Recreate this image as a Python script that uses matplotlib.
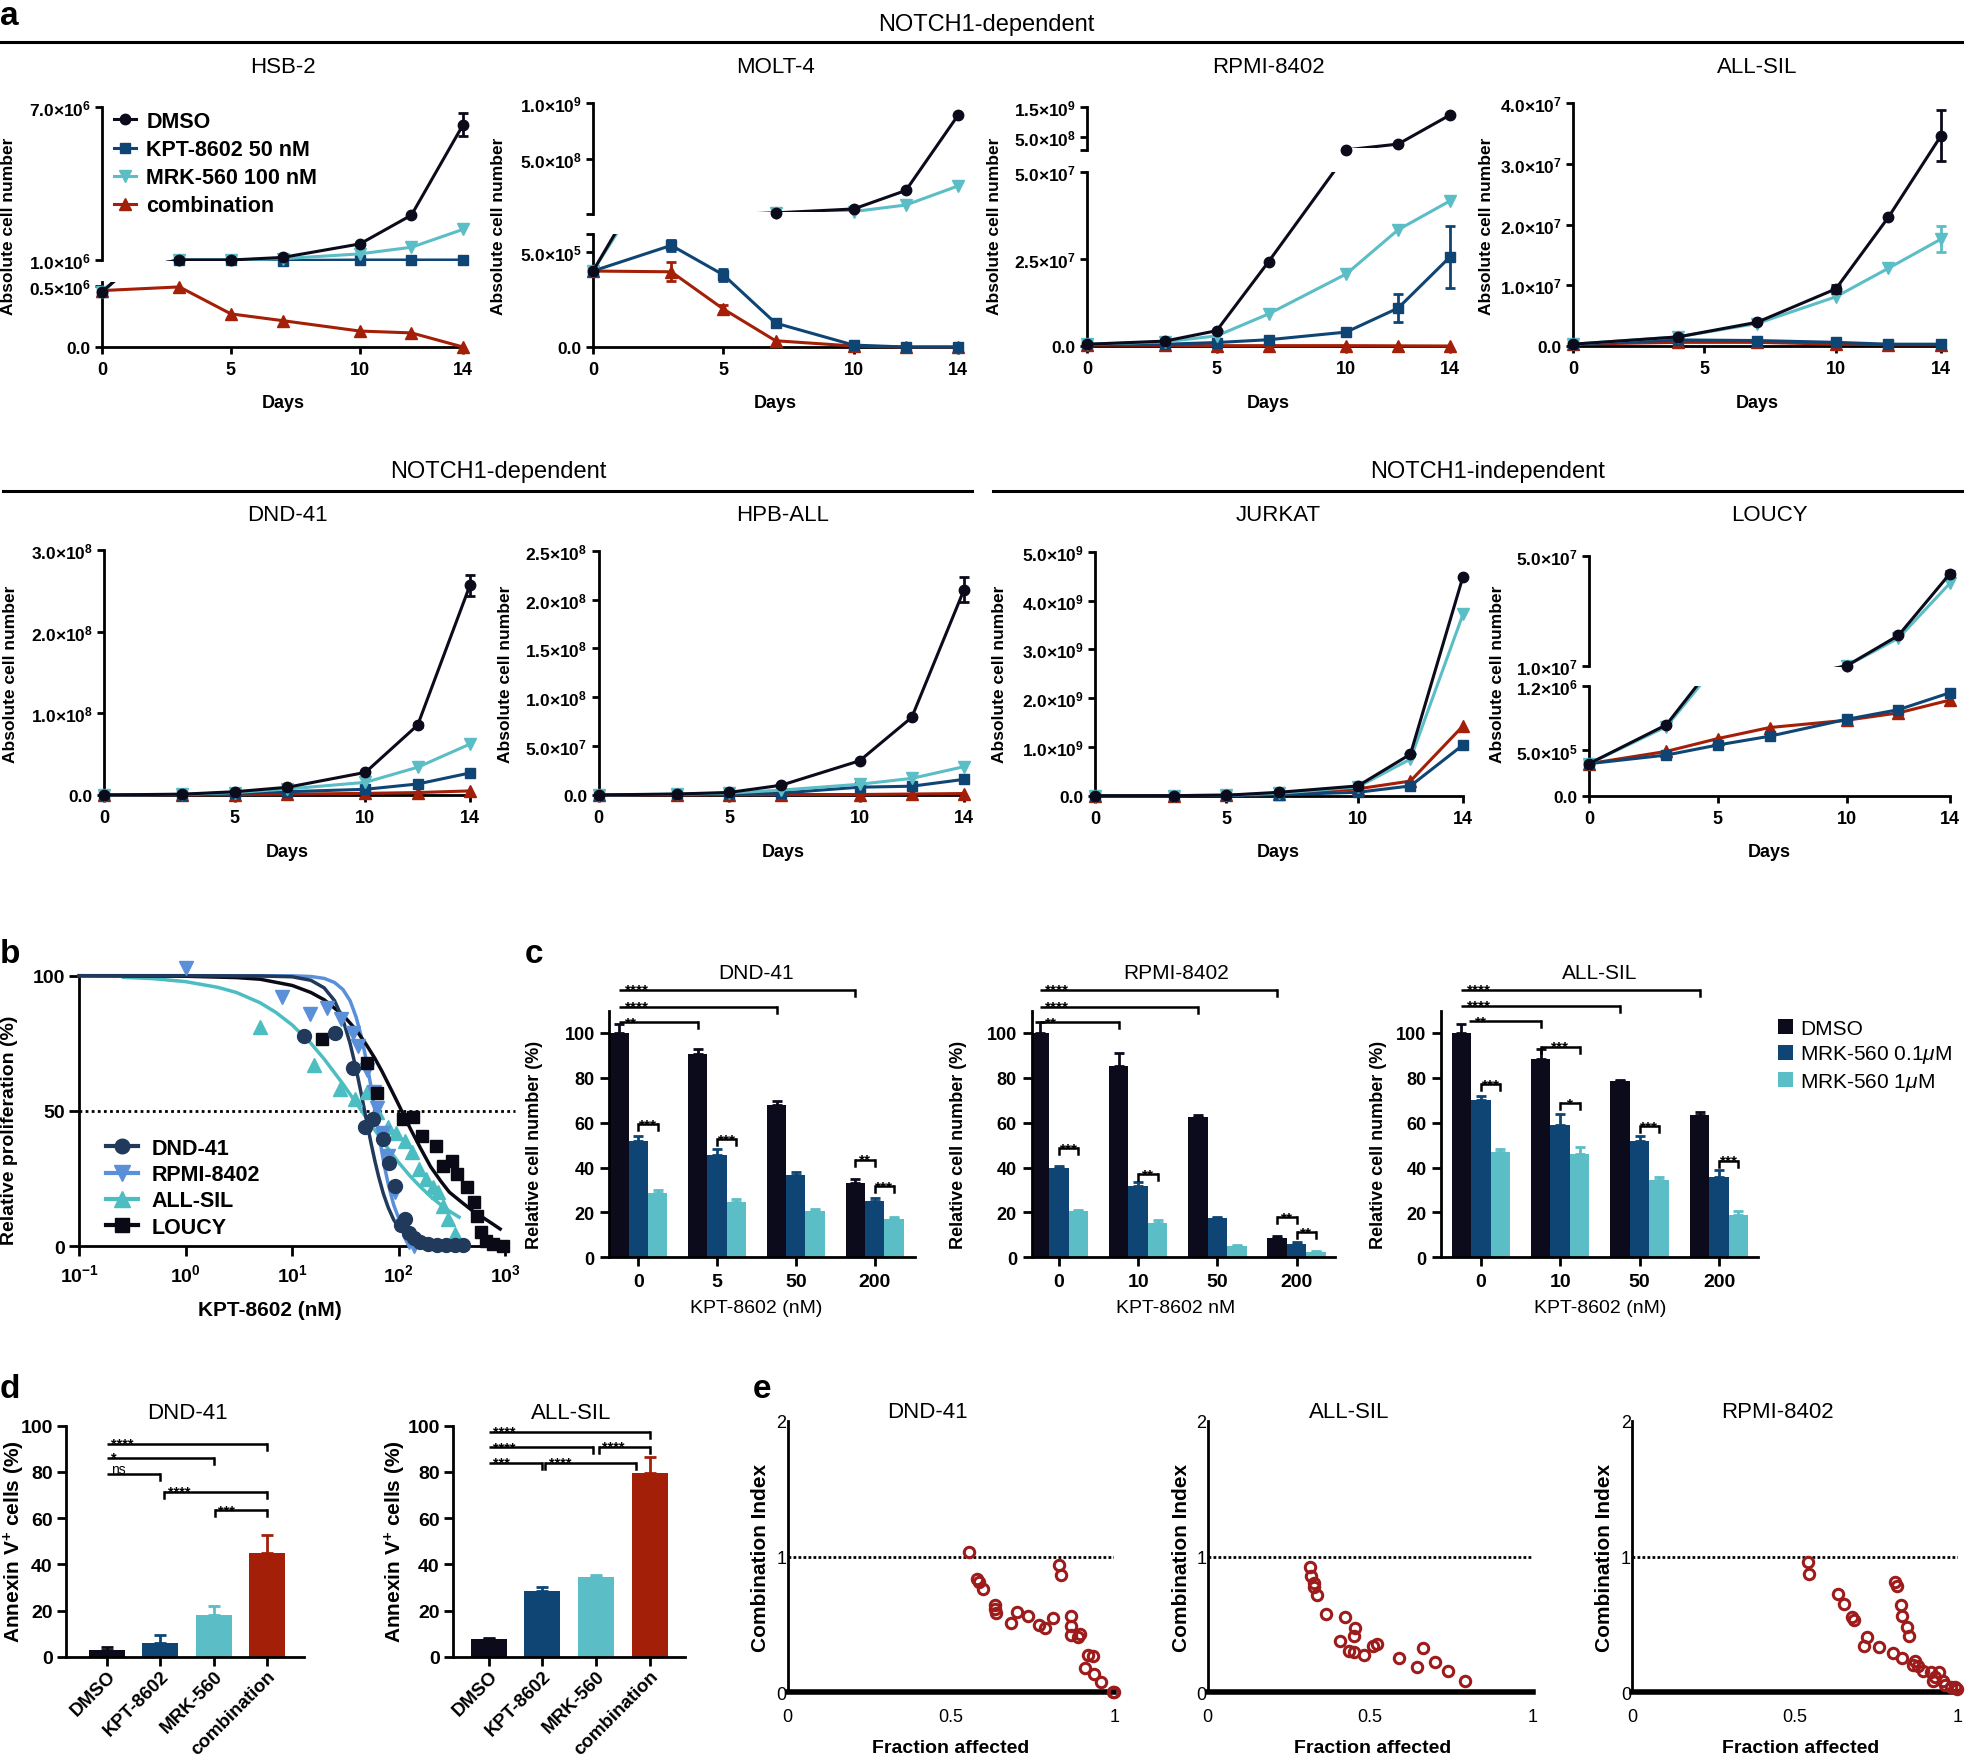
import numpy as np
import matplotlib
matplotlib.use("Agg")
import matplotlib.pyplot as plt
from matplotlib.lines import Line2D
from matplotlib.patches import Patch
from matplotlib.transforms import Bbox, TransformedBbox

plt.rcParams['font.family'] = ['Liberation Sans', 'DejaVu Sans']
plt.rcParams['mathtext.fontset'] = 'custom'
plt.rcParams['mathtext.rm'] = 'Liberation Sans'
plt.rcParams['mathtext.it'] = 'Liberation Sans:italic'
plt.rcParams['mathtext.bf'] = 'Liberation Sans:bold'
plt.rcParams['mathtext.default'] = 'regular'

# ======================= DATA =======================
# ---- panel a: growth curves ----
DAYS = [0, 3, 5, 7, 10, 12, 14]
DAYS_ALLSIL = [0, 4, 7, 10, 12, 14]
A_LABELS = ['DMSO', 'KPT-8602 50 nM', 'MRK-560 100 nM', 'combination']
A_XTICKS = [0, 5, 10, 14]

HSB2_DMSO = [0.45e6, 1.0e6, 1.0e6, 1.1e6, 1.63e6, 2.76e6, 6.3e6]
HSB2_DMSO_ERR = [0, 0, 0, 0, 0, 0, 0.45e6]
HSB2_KPT = [0.45e6, 1.0e6, 1.0e6, 0.98e6, 1.0e6, 1.0e6, 1.0e6]
HSB2_MRK = [0.45e6, 1.0e6, 1.0e6, 1.05e6, 1.24e6, 1.5e6, 2.2e6]
HSB2_COMB = [0.46e6, 0.49e6, 0.27e6, 0.215e6, 0.13e6, 0.115e6, 0.0]

MOLT4_DMSO = [4.0e5, 1.1e6, 4.0e6, 2.0e7, 5.5e7, 2.2e8, 8.9e8]
MOLT4_KPT = [4.0e5, 5.35e5, 3.8e5, 1.26e5, 1.0e4, 0.0, 0.0]
MOLT4_KPT_ERR = [0, 3e4, 3e4, 1e4, 0, 0, 0]
MOLT4_MRK = [4.0e5, 1.05e6, 3.8e6, 1.9e7, 3.2e7, 9.0e7, 2.6e8]
MOLT4_COMB = [4.0e5, 3.96e5, 2.0e5, 3.3e4, 5.0e3, 0.0, 0.0]
MOLT4_COMB_ERR = [0, 5e4, 2e4, 0, 0, 0, 0]

RPMI_DMSO = [5.0e5, 1.4e6, 4.4e6, 2.42e7, 5.5e7, 2.5e8, 1.23e9]
RPMI_KPT = [5.0e5, 5.0e5, 1.0e6, 1.8e6, 4.0e6, 1.09e7, 2.56e7]
RPMI_KPT_ERR = [0, 0, 0, 0, 0, 4.0e6, 9.0e6]
RPMI_MRK = [5.0e5, 1.2e6, 2.9e6, 9.2e6, 2.07e7, 3.34e7, 4.17e7]
RPMI_COMB = [3.0e5, 2.0e5, 1.0e5, 1.0e5, 1.0e5, 5.0e4, 0.0]

ALLSIL_DMSO = [0.3e6, 1.5e6, 3.9e6, 9.4e6, 2.12e7, 3.46e7]
ALLSIL_DMSO_ERR = [0, 0, 0, 0.7e6, 0, 4.2e6]
ALLSIL_KPT = [0.3e6, 1.0e6, 0.9e6, 0.6e6, 0.3e6, 0.3e6]
ALLSIL_MRK = [0.3e6, 1.5e6, 3.7e6, 8.1e6, 1.28e7, 1.76e7]
ALLSIL_MRK_ERR = [0, 0, 0, 0, 0, 2.1e6]
ALLSIL_COMB = [0.3e6, 0.6e6, 0.6e6, 0.3e6, 0.2e6, 0.2e6]

DND_DMSO = [0.1e6, 1.0e6, 4.0e6, 9.4e6, 2.77e7, 8.57e7, 2.57e8]
DND_DMSO_ERR = [0, 0, 0, 0, 0, 3e6, 1.3e7]
DND_KPT = [0.1e6, 0.5e6, 2.0e6, 4.0e6, 7.0e6, 1.35e7, 2.7e7]
DND_MRK = [0.1e6, 0.8e6, 3.0e6, 7.3e6, 1.55e7, 3.4e7, 6.24e7]
DND_COMB = [0.1e6, 0.3e6, 0.5e6, 1.0e6, 2.0e6, 3.0e6, 5.0e6]

HPB_DMSO = [0.1e6, 1.0e6, 2.6e6, 1.0e7, 3.5e7, 7.95e7, 2.1e8]
HPB_DMSO_ERR = [0, 0, 0, 0, 0, 0, 1.3e7]
HPB_KPT = [0.1e6, 0.6e6, 1.5e6, 2.0e6, 8.0e6, 9.0e6, 1.6e7]
HPB_MRK = [0.1e6, 0.8e6, 2.0e6, 5.0e6, 1.1e7, 1.7e7, 2.9e7]
HPB_COMB = [0.1e6, 0.3e6, 0.4e6, 0.5e6, 0.5e6, 1.0e6, 1.5e6]

JUR_DMSO = [0.5e6, 2.0e6, 1.0e7, 7.0e7, 2.0e8, 8.5e8, 4.49e9]
JUR_KPT = [0.5e6, 2.0e6, 6.0e6, 2.0e7, 7.0e7, 2.0e8, 1.04e9]
JUR_MRK = [0.5e6, 2.0e6, 1.0e7, 5.0e7, 1.8e8, 7.5e8, 3.72e9]
JUR_COMB = [0.5e6, 2.0e6, 8.0e6, 3.0e7, 1.4e8, 3.0e8, 1.43e9]

LOU_DMSO = [0.356e6, 0.78e6, 1.5e6, 4.0e6, 1.0e7, 2.1e7, 4.35e7]
LOU_DMSO_ERR = [0, 0, 0, 0, 0, 0, 1.0e6]
LOU_KPT = [0.356e6, 0.45e6, 0.56e6, 0.655e6, 0.84e6, 0.945e6, 1.13e6]
LOU_MRK = [0.356e6, 0.76e6, 1.45e6, 3.8e6, 1.0e7, 2.0e7, 4.0e7]
LOU_COMB = [0.356e6, 0.49e6, 0.63e6, 0.75e6, 0.83e6, 0.91e6, 1.05e6]

# y tick values / labels
HSB2_UP_T = [1e6, 7e6]
HSB2_UP_L = [r'$\mathbf{1.0{\times}10^{6}}$', r'$\mathbf{7.0{\times}10^{6}}$']
HSB2_LO_T = [0, 0.5e6]
HSB2_LO_L = ['0.0', r'$\mathbf{0.5{\times}10^{6}}$']
MOLT4_UP_T = [1e7, 5e8, 1e9]
MOLT4_UP_L = ['', r'$\mathbf{5.0{\times}10^{8}}$', r'$\mathbf{1.0{\times}10^{9}}$']
MOLT4_LO_T = [0, 5e5, 5.95e5]
MOLT4_LO_L = ['0.0', r'$\mathbf{5.0{\times}10^{5}}$', '']
RPMI_UP_T = [5e7, 5e8, 1.5e9]
RPMI_UP_L = ['', r'$\mathbf{5.0{\times}10^{8}}$', r'$\mathbf{1.5{\times}10^{9}}$']
RPMI_LO_T = [0, 2.5e7, 5e7]
RPMI_LO_L = ['0.0', r'$\mathbf{2.5{\times}10^{7}}$', r'$\mathbf{5.0{\times}10^{7}}$']
ALLSIL_T = [0, 1e7, 2e7, 3e7, 4e7]
ALLSIL_L = ['0.0', r'$\mathbf{1.0{\times}10^{7}}$', r'$\mathbf{2.0{\times}10^{7}}$',
            r'$\mathbf{3.0{\times}10^{7}}$', r'$\mathbf{4.0{\times}10^{7}}$']
DND_T = [0, 1e8, 2e8, 3e8]
DND_L = ['0.0', r'$\mathbf{1.0{\times}10^{8}}$', r'$\mathbf{2.0{\times}10^{8}}$', r'$\mathbf{3.0{\times}10^{8}}$']
HPB_T = [0, 5e7, 1e8, 1.5e8, 2e8, 2.5e8]
HPB_L = ['0.0', r'$\mathbf{5.0{\times}10^{7}}$', r'$\mathbf{1.0{\times}10^{8}}$', r'$\mathbf{1.5{\times}10^{8}}$',
         r'$\mathbf{2.0{\times}10^{8}}$', r'$\mathbf{2.5{\times}10^{8}}$']
JUR_T = [0, 1e9, 2e9, 3e9, 4e9, 5e9]
JUR_L = ['0.0', r'$\mathbf{1.0{\times}10^{9}}$', r'$\mathbf{2.0{\times}10^{9}}$', r'$\mathbf{3.0{\times}10^{9}}$',
         r'$\mathbf{4.0{\times}10^{9}}$', r'$\mathbf{5.0{\times}10^{9}}$']
LOU_UP_T = [1e7, 5e7]
LOU_UP_L = [r'$\mathbf{1.0{\times}10^{7}}$', r'$\mathbf{5.0{\times}10^{7}}$']
LOU_LO_T = [0, 5e5, 1.2e6]
LOU_LO_L = ['0.0', r'$\mathbf{5.0{\times}10^{5}}$', r'$\mathbf{1.2{\times}10^{6}}$']

# ---- panel b: dose response ----
B_LABELS = ['DND-41', 'RPMI-8402', 'ALL-SIL', 'LOUCY']
B_DND_X = [13, 25, 37, 48, 58, 72, 82, 92, 105, 115, 125, 140, 160, 190, 230, 280, 340, 400]
B_DND_Y = [77.6, 78.8, 65.8, 44, 47, 39.6, 30.8, 22.4, 8, 10, 5, 3, 1.5, 1, 0.5, 0.5, 0.3, 0.3]
B_RPMI_X = [1, 8.1, 14.7, 21.4, 29, 37.5, 41.7, 50.5, 58.5, 63, 70.7, 79, 92, 107, 124, 140]
B_RPMI_Y = [103, 92, 86, 88, 84, 79, 74, 65, 57, 51, 42, 33.5, 20, 7.6, 1.5, 0.2]
B_ALLSIL_X = [5, 16.2, 27.9, 39, 50.5, 63, 79, 95, 115, 133, 155, 180, 209, 234, 260, 290, 340, 365]
B_ALLSIL_Y = [81, 67, 58, 54.4, 57, 49.5, 44, 42, 39, 34.7, 28.6, 25, 21.8, 20, 15, 10, 4.5, 2]
B_LOUCY_X = [19, 50.5, 63, 110, 138, 166, 224, 260, 318, 355, 440, 510, 550, 590, 665, 770, 950]
B_LOUCY_Y = [76.6, 67.7, 56.6, 47, 47.7, 40.9, 37, 29.8, 31.6, 26.7, 21.8, 16.3, 11.3, 5.2, 2, 0.9, 0.2]
# fitted curves
CUR_DND_X = [0.1, 1, 5, 10, 15, 20, 25, 30, 35, 40, 45, 50, 55, 60, 65, 72, 80, 90, 100, 115, 130, 150, 170, 200, 250, 320, 400]
CUR_DND_Y = [100, 100, 99.9, 99.6, 98.3, 95.5, 90.8, 83.8, 75, 65.4, 55.6, 46.4, 38.3, 31.4, 25.7, 19.4, 14.3, 9.8, 7.1, 4.6, 3.0, 1.9, 1.2, 0.7, 0.3, 0.15, 0.06]
CUR_RPMI_X = [0.1, 1, 5, 10, 15, 20, 25, 30, 35, 40, 45, 50, 55, 60, 65, 70, 75, 80, 90, 100, 110, 120, 135, 150]
CUR_RPMI_Y = [100, 100, 100, 99.95, 99.7, 99, 97.5, 94.9, 90.8, 84.6, 77, 68.3, 59.1, 50, 41.6, 34.4, 28.1, 23, 15.3, 10.5, 7.4, 5.2, 3.3, 2.1]
CUR_ALLSIL_X = [0.26, 0.5, 1, 2, 3, 5, 7, 10, 15, 20, 30, 45, 60, 80, 100, 130, 160, 200, 250, 300, 370]
CUR_ALLSIL_Y = [99.4, 98.9, 97.8, 95.7, 93.8, 90, 86.5, 81.8, 75, 69.2, 60, 50, 42.9, 36, 31, 25.7, 22, 18.4, 15.3, 13, 10.8]
CUR_LOUCY_X = [0.1, 1, 3, 5, 10, 15, 20, 30, 40, 50, 60, 70, 85, 100, 107, 130, 160, 200, 250, 300, 400, 500, 617, 750, 900]
CUR_LOUCY_Y = [100, 99.8, 99.3, 98.7, 96.4, 93.8, 91.1, 85.5, 79.9, 74.4, 69.4, 64.6, 58, 52.4, 50, 43.2, 36.4, 29.4, 24, 20, 16, 13, 10.7, 8.5, 6.4]
B_XTICKS = [0.1, 1, 10, 100, 1000]
B_XTICKLABELS = [r'$\mathbf{10^{-1}}$', r'$\mathbf{10^{0}}$', r'$\mathbf{10^{1}}$', r'$\mathbf{10^{2}}$',
                 r'$\mathbf{10^{3}}$']

# ---- panel c: relative cell number ----
C_LEG = ['DMSO', r'MRK-560 0.1$\mathit{\mu}$M', r'MRK-560 1$\mathit{\mu}$M']
C_DND_GROUPS = ['0', '5', '50', '200']
C_DND_DMSO = [100, 90.5, 67.7, 33]
C_DND_DMSO_E = [4, 2.5, 1.8, 2]
C_DND_M01 = [51.8, 45.5, 36.8, 25]
C_DND_M01_E = [2.2, 2.8, 1.3, 1.5]
C_DND_M1 = [28.6, 24.5, 20.5, 17]
C_DND_M1_E = [1.5, 1.5, 1, 1]
C_RPMI_GROUPS = ['0', '10', '50', '200']
C_RPMI_DMSO = [100, 85.5, 62.5, 8.5]
C_RPMI_DMSO_E = [5, 5.5, 1, 0.8]
C_RPMI_M01 = [40, 32, 17.5, 5.8]
C_RPMI_M01_E = [0.8, 1.5, 0.5, 0.8]
C_RPMI_M1 = [20.5, 15.5, 5, 2.3]
C_RPMI_M1_E = [0.8, 1, 0.5, 0.5]
C_ALLSIL_GROUPS = ['0', '10', '50', '200']
C_ALLSIL_DMSO = [100, 88.5, 78.7, 63.6]
C_ALLSIL_DMSO_E = [4, 4.5, 0.5, 1.2]
C_ALLSIL_M01 = [70, 58.8, 51.8, 35.8]
C_ALLSIL_M01_E = [2, 5, 2.5, 3]
C_ALLSIL_M1 = [46.8, 46, 34.5, 19]
C_ALLSIL_M1_E = [1.5, 3, 1.5, 1.5]

# ---- panel d: annexin V ----
D_CATS = ['DMSO', 'KPT-8602', 'MRK-560', 'combination']
D_DND = [3, 6, 18, 45]
D_DND_E = [1, 3.5, 4, 7.5]
D_ALLSIL = [7.5, 28.5, 34.5, 79.5]
D_ALLSIL_E = [0.5, 1.5, 1, 7]

# ---- panel e: combination index ----
E_DND_FA = [0.554, 0.578, 0.585, 0.598, 0.634, 0.634, 0.639, 0.683, 0.702, 0.737, 0.768, 0.788, 0.812,
            0.829, 0.837, 0.866, 0.866, 0.866, 0.89, 0.895, 0.91, 0.92, 0.934, 0.939, 0.959, 0.995, 1.0]
E_DND_CI = [1.03, 0.833, 0.81, 0.76, 0.642, 0.613, 0.583, 0.51, 0.593, 0.559, 0.498, 0.47, 0.544,
            0.936, 0.863, 0.564, 0.49, 0.42, 0.41, 0.43, 0.176, 0.275, 0.27, 0.135, 0.074, 0.0, 0.0]
E_ALLSIL_FA = [0.314, 0.319, 0.326, 0.326, 0.338, 0.363, 0.424, 0.407, 0.449, 0.453, 0.436, 0.449,
               0.48, 0.51, 0.522, 0.588, 0.645, 0.662, 0.699, 0.738, 0.792]
E_ALLSIL_CI = [0.919, 0.858, 0.804, 0.772, 0.716, 0.576, 0.551, 0.38, 0.417, 0.47, 0.306, 0.294,
               0.277, 0.343, 0.353, 0.252, 0.184, 0.324, 0.225, 0.154, 0.086]
E_RPMI_FA = [0.539, 0.544, 0.632, 0.65, 0.674, 0.681, 0.711, 0.723, 0.76, 0.801, 0.809, 0.814, 0.826,
             0.828, 0.846, 0.85, 0.828, 0.87, 0.877, 0.863, 0.895, 0.919, 0.931, 0.944, 0.956, 0.963,
             0.98, 0.993, 0.998, 0.926]
E_RPMI_CI = [0.956, 0.87, 0.723, 0.65, 0.551, 0.532, 0.343, 0.404, 0.331, 0.287, 0.814, 0.784, 0.645,
             0.564, 0.478, 0.417, 0.25, 0.233, 0.196, 0.203, 0.159, 0.147, 0.11, 0.147, 0.086, 0.054,
             0.037, 0.037, 0.025, 0.086]

# ======================= STYLE / LAYOUT =======================
BLACK = '#0b0b1c'
NAVY = '#0e4575'
CYAN = '#5bbdc6'
RED = '#a41f07'
B_COLS = ['#213a5c', '#5a8fd9', '#4cbdc1', '#0a0a16']
E_RED = '#9e1b1b'
LW_AX = 2.0

W, H = 1969, 1756
fig = plt.figure(figsize=(W / 100, H / 100), dpi=100)


def place(xpx, ypx, xnom, ynom, pad=(0, 0, 0, 0), xlog=False):
    f = np.log10 if xlog else (lambda v: float(v))
    finv = (lambda v: 10 ** v) if xlog else (lambda v: v)
    kx = (xpx[1] - xpx[0]) / (f(xnom[1]) - f(xnom[0]))
    ky = (ypx[0] - ypx[1]) / (ynom[1] - ynom[0])
    pl, pr, pb, pt = pad
    xlim = (finv(f(xnom[0]) - pl / kx), finv(f(xnom[1]) + pr / kx))
    ylim = (ynom[0] - pb / ky, ynom[1] + pt / ky)
    left, right = xpx[0] - pl, xpx[1] + pr
    bot, top = ypx[0] + pb, ypx[1] - pt
    ax = fig.add_axes([left / W, 1 - bot / H, (right - left) / W, (bot - top) / H])
    if xlog:
        ax.set_xscale('log')
    ax.set_xlim(*xlim)
    ax.set_ylim(*ylim)
    ax.patch.set_alpha(0)
    ax.spines['top'].set_visible(False)
    ax.spines['right'].set_visible(False)
    ax.spines['left'].set_bounds(ynom[0], ynom[1])
    ax.spines['bottom'].set_bounds(xnom[0], xnom[1])
    ax.spines['left'].set_position(('data', xnom[0]))
    ax.spines['bottom'].set_position(('data', ynom[0]))
    for s in ('left', 'bottom'):
        ax.spines[s].set_linewidth(LW_AX)
    ax.tick_params(width=LW_AX, length=5, direction='out', pad=3)
    ax.minorticks_off()
    return ax


def T(x, y, s, size, weight='normal', rot=0, ha='center', va='center', **kw):
    fig.text(x / W, 1 - y / H, s, fontsize=size, fontweight=weight, rotation=rot,
             ha=ha, va=va, **kw)


def hline(x0, x1, y, lw=2.2):
    fig.add_artist(Line2D([x0 / W, x1 / W], [1 - y / H, 1 - y / H], color='black', lw=lw))


STY = {'DMSO': (BLACK, 'o', 7.5), 'KPT': (NAVY, 's', 7), 'MRK': (CYAN, 'v', 8), 'COMB': (RED, '^', 8)}
ORDER = ['COMB', 'KPT', 'MRK', 'DMSO']


def growth(xpx, segs, days, data, errs=None):
    days = np.asarray(days, float)
    errs = errs or {}
    n = len(segs)
    for i, seg in enumerate(segs):
        lo, hi = seg['ynom']
        pb = 3 if i == 0 else 0
        pt = 3 if i == n - 1 else 0
        ax = place(xpx, seg['ypx'], (0, 14), (lo, hi), pad=(4, 4, pb, pt))
        ky = (seg['ypx'][0] - seg['ypx'][1]) / (hi - lo)
        x0, x1 = ax.get_xlim()
        y0, y1 = ax.get_ylim()
        clip = None
        if i > 0:
            off = seg.get('clip_px', 2.0)
            clip = TransformedBbox(Bbox([[x0, lo + off / ky], [x1, y1]]), ax.transData)
        for zi, k in enumerate(ORDER):
            col, mk, ms = STY[k]
            y = np.asarray(data[k], float)
            ln, = ax.plot(days, y, color=col, lw=2.2, zorder=3 + zi)
            if clip is not None:
                ln.set_clip_box(clip)
            lo_ok = (y >= 0.95 * lo) if lo > 0 else (y >= lo - 1)
            m = lo_ok & (y <= hi * 1.02)
            ax.plot(days[m], y[m], ls='none', marker=mk, ms=ms, color=col,
                    clip_on=False, zorder=3 + zi)
            if k in errs:
                e = np.asarray(errs[k], float)
                me = m & (e > 0)
                if me.any():
                    eb = ax.errorbar(days[me], y[me], yerr=e[me], fmt='none', ecolor=col,
                                     elinewidth=2, capsize=3.5, capthick=2, zorder=3 + zi)
                    for c in eb.get_children():
                        c.set_clip_on(False)
        ax.set_yticks(seg['ticks'])
        ax.set_yticklabels(seg['labels'], fontsize=12.5, fontweight='bold')
        if i == 0:
            ax.set_xticks(A_XTICKS)
            ax.set_xticklabels([str(v) for v in A_XTICKS], fontsize=13, fontweight='bold')
            ax.tick_params(axis='x', pad=5)
        else:
            ax.spines['bottom'].set_visible(False)
            ax.tick_params(axis='x', which='both', bottom=False, labelbottom=False)


def dct(d, k, m, c):
    return {'DMSO': d, 'KPT': k, 'MRK': m, 'COMB': c}


# ======================= PANEL a =======================
T(0, 25, 'a', 24, 'bold', ha='left', va='baseline')
T(986, 31, 'NOTCH1-dependent', 17, va='baseline')
hline(0, 1962, 43)
T(498, 478, 'NOTCH1-dependent', 17, va='baseline')
hline(3, 972, 492)
T(1488, 478, 'NOTCH1-independent', 17, va='baseline')
hline(993, 1962, 492)

row1 = [
    ('HSB-2', 283, 9, (102, 463)),
    ('MOLT-4', 775, 498, (593, 958)),
    ('RPMI-8402', 1268, 994, (1087, 1450)),
    ('ALL-SIL', 1757, 1486, (1573, 1941)),
]
row2 = [
    ('DND-41', 287, 11, (104, 470)),
    ('HPB-ALL', 783, 505, (598.5, 964)),
    ('JURKAT', 1278, 1000, (1095, 1463)),
    ('LOUCY', 1769, 1497, (1589, 1950)),
]
for name, cx, ylx, _ in row1:
    T(cx, 73, name, 16, va='baseline')
    T(cx, 408, 'Days', 13, 'bold', va='baseline')
    T(ylx, 226, 'Absolute cell number', 12.5, 'bold', rot=90)
for name, cx, ylx, _ in row2:
    T(cx, 521, name, 16, va='baseline')
    T(cx, 857, 'Days', 13, 'bold', va='baseline')
    T(ylx, 674, 'Absolute cell number', 12.5, 'bold', rot=90)

growth(row1[0][3], [
    dict(ypx=(348, 283), ynom=(0, 0.53e6), ticks=HSB2_LO_T, labels=HSB2_LO_L),
    dict(ypx=(261, 108), ynom=(1e6, 7e6), ticks=HSB2_UP_T, labels=HSB2_UP_L, clip_px=-1.0)],
    DAYS, dct(HSB2_DMSO, HSB2_KPT, HSB2_MRK, HSB2_COMB), {'DMSO': HSB2_DMSO_ERR})
growth(row1[1][3], [
    dict(ypx=(348, 235), ynom=(0, 5.95e5), ticks=MOLT4_LO_T, labels=MOLT4_LO_L),
    dict(ypx=(215, 104), ynom=(1e7, 1e9), ticks=MOLT4_UP_T, labels=MOLT4_UP_L)],
    DAYS, dct(MOLT4_DMSO, MOLT4_KPT, MOLT4_MRK, MOLT4_COMB),
    {'KPT': MOLT4_KPT_ERR, 'COMB': MOLT4_COMB_ERR})
growth(row1[2][3], [
    dict(ypx=(347, 173), ynom=(0, 5e7), ticks=RPMI_LO_T, labels=RPMI_LO_L),
    dict(ypx=(151, 108), ynom=(5e7, 1.5e9), ticks=RPMI_UP_T, labels=RPMI_UP_L, clip_px=1.6)],
    DAYS, dct(RPMI_DMSO, RPMI_KPT, RPMI_MRK, RPMI_COMB), {'KPT': RPMI_KPT_ERR})
growth(row1[3][3], [
    dict(ypx=(347, 104), ynom=(0, 4e7), ticks=ALLSIL_T, labels=ALLSIL_L)],
    DAYS_ALLSIL, dct(ALLSIL_DMSO, ALLSIL_KPT, ALLSIL_MRK, ALLSIL_COMB),
    {'DMSO': ALLSIL_DMSO_ERR, 'MRK': ALLSIL_MRK_ERR})
growth(row2[0][3], [
    dict(ypx=(796, 551), ynom=(0, 3e8), ticks=DND_T, labels=DND_L)],
    DAYS, dct(DND_DMSO, DND_KPT, DND_MRK, DND_COMB), {'DMSO': DND_DMSO_ERR})
growth(row2[1][3], [
    dict(ypx=(796, 551.7), ynom=(0, 2.5e8), ticks=HPB_T, labels=HPB_L)],
    DAYS, dct(HPB_DMSO, HPB_KPT, HPB_MRK, HPB_COMB), {'DMSO': HPB_DMSO_ERR})
growth(row2[2][3], [
    dict(ypx=(796.7, 552.7), ynom=(0, 5e9), ticks=JUR_T, labels=JUR_L)],
    DAYS, dct(JUR_DMSO, JUR_KPT, JUR_MRK, JUR_COMB))
growth(row2[3][3], [
    dict(ypx=(797.3, 687.3), ynom=(0, 1.2e6), ticks=LOU_LO_T, labels=LOU_LO_L),
    dict(ypx=(666.7, 556.7), ynom=(1e7, 5e7), ticks=LOU_UP_T, labels=LOU_UP_L, clip_px=-1.0)],
    DAYS, dct(LOU_DMSO, LOU_KPT, LOU_MRK, LOU_COMB), {'DMSO': LOU_DMSO_ERR})

leg_handles = [Line2D([], [], color=STY[k][0], marker=STY[k][1], ms=STY[k][2], lw=2.2)
               for k in ['DMSO', 'KPT', 'MRK', 'COMB']]
fig.legend(leg_handles, A_LABELS, loc='upper left', bbox_to_anchor=(114 / W, 1 - 112 / H),
           frameon=False, prop={'size': 15.5, 'weight': 'bold'}, handlelength=1.0,
           handletextpad=0.5, labelspacing=0.33, borderpad=0, borderaxespad=0)

# ======================= PANEL b =======================
T(0, 963, 'b', 24, 'bold', ha='left', va='baseline')
axb = place((79.3, 505), (1247.3, 976.7), (0.1, 1000), (0, 100), pad=(0, 0, 0, 0), xlog=True)
axb.plot([0.1, 1250], [50, 50], color='black', lw=2, ls=(0, (1, 1.2)), clip_on=False, zorder=1)
curves = [(CUR_DND_X, CUR_DND_Y), (CUR_RPMI_X, CUR_RPMI_Y), (CUR_ALLSIL_X, CUR_ALLSIL_Y),
          (CUR_LOUCY_X, CUR_LOUCY_Y)]
pts = [(B_DND_X, B_DND_Y, 'o', 10), (B_RPMI_X, B_RPMI_Y, 'v', 10.5),
       (B_ALLSIL_X, B_ALLSIL_Y, '^', 10.5), (B_LOUCY_X, B_LOUCY_Y, 's', 9)]
for i in [2, 1, 3, 0]:
    axb.plot(curves[i][0], curves[i][1], color=B_COLS[i], lw=2.5, clip_on=False, zorder=3)
for i in [2, 1, 3, 0]:
    axb.plot(pts[i][0], pts[i][1], ls='none', marker=pts[i][2], ms=pts[i][3], color=B_COLS[i],
             clip_on=False, zorder=4)
axb.set_xticks(B_XTICKS)
axb.set_xticklabels(B_XTICKLABELS, fontsize=14, fontweight='bold')
axb.minorticks_off()
axb.set_yticks([0, 50, 100])
axb.set_yticklabels(['0', '50', '100'], fontsize=14, fontweight='bold')
axb.tick_params(length=7, width=LW_AX)
axb.tick_params(axis='x', pad=5)
T(270, 1316, 'KPT-8602 (nM)', 15, 'bold', va='baseline')
T(10, 1130, 'Relative proliferation (%)', 14, 'bold', rot=90)
bh = [Line2D([], [], color=B_COLS[i], marker=pts[i][2], ms=pts[i][3] + 0.5, lw=3) for i in range(4)]
fig.legend(bh, B_LABELS, loc='upper left', bbox_to_anchor=(106 / W, 1 - 1139 / H), frameon=False,
           prop={'size': 15.5, 'weight': 'bold'}, handlelength=1.5, handletextpad=0.6,
           labelspacing=0.24, borderpad=0, borderaxespad=0)

# ======================= PANEL c =======================
T(525, 963, 'c', 24, 'bold', ha='left', va='baseline')
W_C = 0.245
C_COLS = [BLACK, NAVY, CYAN]


def bracket(ax, x1, x2, y, ticks, text, ha, tl, fs=11, weight='bold', dy=-4):
    ax.plot([x1, x2], [y, y], color='black', lw=1.8, clip_on=False, solid_capstyle='butt')
    if 'l' in ticks:
        ax.plot([x1, x1], [y, y - tl], color='black', lw=1.8, clip_on=False)
    if 'r' in ticks:
        ax.plot([x2, x2], [y, y - tl], color='black', lw=1.8, clip_on=False)
    tx = x1 + 0.07 if ha == 'left' else (x1 + x2) / 2
    ax.annotate(text, xy=(tx, y), xytext=(0, dy), textcoords='offset pixels', ha=ha,
                va='baseline', fontsize=fs, fontweight=weight, annotation_clip=False)


def cpanel(axl, axr, g0, g3, groups, series, errs, title, tx, xlabel, ylx, brs):
    k = (g3 - g0) / 3.0
    xn = ((axl - g0) / k, 3 + (axr - g3) / k)
    ax = place((axl, axr), (1258.3, 1258.3 - 110 * 2.243), xn, (0, 110))
    for j in range(3):
        xs = np.arange(4) + (j - 1) * W_C
        ax.bar(xs, series[j], width=W_C, color=C_COLS[j], linewidth=0, zorder=2)
        ax.errorbar(xs, series[j], yerr=[np.zeros(4), errs[j]], fmt='none', ecolor=C_COLS[j],
                    elinewidth=2, capsize=3.5, capthick=2, zorder=2)
    ax.set_xticks(range(4))
    ax.set_xticklabels(groups, fontsize=14, fontweight='bold')
    ax.set_yticks(range(0, 101, 20))
    ax.set_yticklabels([str(v) for v in range(0, 101, 20)], fontsize=13, fontweight='bold')
    ax.tick_params(length=6.5, width=LW_AX)
    ax.tick_params(axis='x', pad=5)
    ax.tick_params(axis='y', pad=4)
    tl = 2.7
    for b in brs:
        bracket(ax, b[0], b[1], b[2], b[3], b[4], b[5], tl)
    T(tx, 979, title, 15, va='baseline')
    T(tx, 1313, xlabel, 14, va='baseline')
    T(ylx, 1145, 'Relative cell number (%)', 13, 'bold', rot=90)
    return ax


w = W_C
cpanel(609.4, 914.5, 638.3, 874.6, C_DND_GROUPS,
       [C_DND_DMSO, C_DND_M01, C_DND_M1], [C_DND_DMSO_E, C_DND_M01_E, C_DND_M1_E],
       'DND-41', 756, 'KPT-8602 (nM)', 534,
       [(-w, 3 - w, 119.3, 'r', '****', 'left'), (-w, 2 - w, 111.7, 'r', '****', 'left'),
        (-w, 1 - w, 104.8, 'r', '**', 'left'), (0, w, 59.3, 'lr', '***', 'center'),
        (1, 1 + w, 52.7, 'lr', '***', 'center'), (3 - w, 3, 43.5, 'lr', '**', 'center'),
        (3, 3 + w, 31.7, 'lr', '***', 'center')])
cpanel(1031.5, 1334.8, 1059, 1296.6, C_RPMI_GROUPS,
       [C_RPMI_DMSO, C_RPMI_M01, C_RPMI_M1], [C_RPMI_DMSO_E, C_RPMI_M01_E, C_RPMI_M1_E],
       'RPMI-8402', 1176, 'KPT-8602 nM', 958,
       [(-w, 3 - w, 119.3, 'r', '****', 'left'), (-w, 2 - w, 111.7, 'r', '****', 'left'),
        (-w, 1 - w, 104.8, 'r', '**', 'left'), (0, w, 48.6, 'lr', '***', 'center'),
        (1, 1 + w, 37.1, 'lr', '**', 'center'), (3 - w, 3, 17.8, 'lr', '**', 'center'),
        (3, 3 + w, 11.1, 'lr', '**', 'center')])
cpanel(1441, 1758.3, 1480.8, 1719, C_ALLSIL_GROUPS,
       [C_ALLSIL_DMSO, C_ALLSIL_M01, C_ALLSIL_M1], [C_ALLSIL_DMSO_E, C_ALLSIL_M01_E, C_ALLSIL_M1_E],
       'ALL-SIL', 1600, 'KPT-8602 (nM)', 1378,
       [(-w, 3 - w, 119.2, 'r', '****', 'left'), (-w, 2 - w, 112.2, 'r', '****', 'left'),
        (-w + 0.1, 1 - w, 105.2, 'r', '**', 'left'), (0, w, 77.2, 'lr', '***', 'center'),
        (1 - w, 1 + w, 93.9, 'lr', '***', 'center'), (1, 1 + w, 68.6, 'lr', '*', 'center'),
        (2, 2 + w, 58.4, 'lr', '***', 'center'), (3, 3 + w, 43.1, 'lr', '***', 'center')])
ch = [Patch(facecolor=c, edgecolor='none') for c in C_COLS]
fig.legend(ch, C_LEG, loc='upper left', bbox_to_anchor=(1778 / W, 1 - 1020 / H), frameon=False,
           prop={'size': 15}, handlelength=0.72, handleheight=0.72, handletextpad=0.35,
           labelspacing=0.26, borderpad=0, borderaxespad=0)

# ======================= PANEL d =======================
T(0, 1398, 'd', 24, 'bold', ha='left', va='baseline')
D_COLS = [BLACK, NAVY, CYAN, RED]


def dpanel(axl, axr, g0, g3, vals, errs, title, tx, ylx, brs):
    k = (g3 - g0) / 3.0
    xn = ((axl - g0) / k, 3 + (axr - g3) / k)
    ax = place((axl, axr), (1657.7, 1426.7), xn, (0, 100))
    xs = np.arange(4)
    ax.bar(xs, vals, width=0.67, color=D_COLS, linewidth=0, zorder=2)
    for i in range(4):
        ax.errorbar([i], [vals[i]], yerr=[[0], [errs[i]]], fmt='none', ecolor=D_COLS[i],
                    elinewidth=2, capsize=4, capthick=2, zorder=2)
    ax.set_xticks(xs)
    ax.set_xticklabels(D_CATS, fontsize=13.5, fontweight='bold', rotation=45, ha='right',
                       rotation_mode='anchor')
    ax.set_yticks(range(0, 101, 20))
    ax.set_yticklabels([str(v) for v in range(0, 101, 20)], fontsize=14, fontweight='bold')
    ax.tick_params(length=6.5, width=LW_AX)
    ax.tick_params(axis='x', pad=1)
    for b in brs:
        if b[4] == 'ns':
            bracket(ax, b[0], b[1], b[2], b[3], b[4], 'left', 2.6, fs=10, weight='normal', dy=1)
        else:
            bracket(ax, b[0], b[1], b[2], b[3], b[4], 'left', 2.6, fs=10.5)
    T(tx, 1419, title, 16, va='baseline')
    T(ylx, 1542, r'Annexin V$^{+}$ cells (%)', 15, 'bold', rot=90)


dpanel(66, 303.6, 107, 267, D_DND, D_DND_E, 'DND-41', 187, 14,
       [(0, 3, 92.2, 'r', '****'), (0, 2, 86.1, 'r', '*'), (0, 1, 79.1, 'r', 'ns'),
        (1.07, 3, 71.4, 'lr', '****'), (2.02, 3, 63.5, 'lr', '***')])
dpanel(453, 685, 488.8, 649.6, D_ALLSIL, D_ALLSIL_E, 'ALL-SIL', 571, 395,
       [(0, 3, 97.3, 'r', '****'), (0, 1.95, 90.6, 'r', '****'), (2.05, 3, 90.9, 'lr', '****'),
        (0, 1.0, 83.9, 'r', '***'), (1.05, 2.74, 83.9, 'lr', '****')])

# ======================= PANEL e =======================
T(753, 1398, 'e', 24, 'bold', ha='left', va='baseline')


def epanel(xl, xr, fa, ci, title, tx, ylx):
    ax = place((xl, xr), (1693.3, 1421.7), (0, 1), (0, 2))
    ax.plot([0, 1], [1, 1], color='black', lw=2, ls=(0, (1, 0.8)), zorder=1)
    ax.plot(fa, ci, ls='none', marker='o', mfc='none', mec=E_RED, mew=2.2, ms=7.5,
            clip_on=False, zorder=3)
    ax.spines['bottom'].set_linewidth(4)
    ax.set_xticks([0, 0.5, 1])
    ax.set_xticklabels(['0', '0.5', '1'], fontsize=13)
    ax.set_yticks([0, 1, 2])
    ax.set_yticklabels(['0', '1', '2'], fontsize=13)
    ax.tick_params(axis='x', length=0, pad=11)
    ax.tick_params(axis='y', length=0, pad=1)
    T(tx, 1418, title, 16, va='baseline')
    T(tx + 24, 1753, 'Fraction affected', 14, 'bold', va='baseline')
    T(ylx, 1558, 'Combination Index', 15, 'bold', rot=90)


epanel(787.7, 1114.4, E_DND_FA, E_DND_CI, 'DND-41', 927, 760)
epanel(1207.6, 1532.7, E_ALLSIL_FA, E_ALLSIL_CI, 'ALL-SIL', 1349, 1181)
epanel(1632.4, 1957.5, E_RPMI_FA, E_RPMI_CI, 'RPMI-8402', 1777, 1604)

fig.savefig('out.png', dpi=100)
